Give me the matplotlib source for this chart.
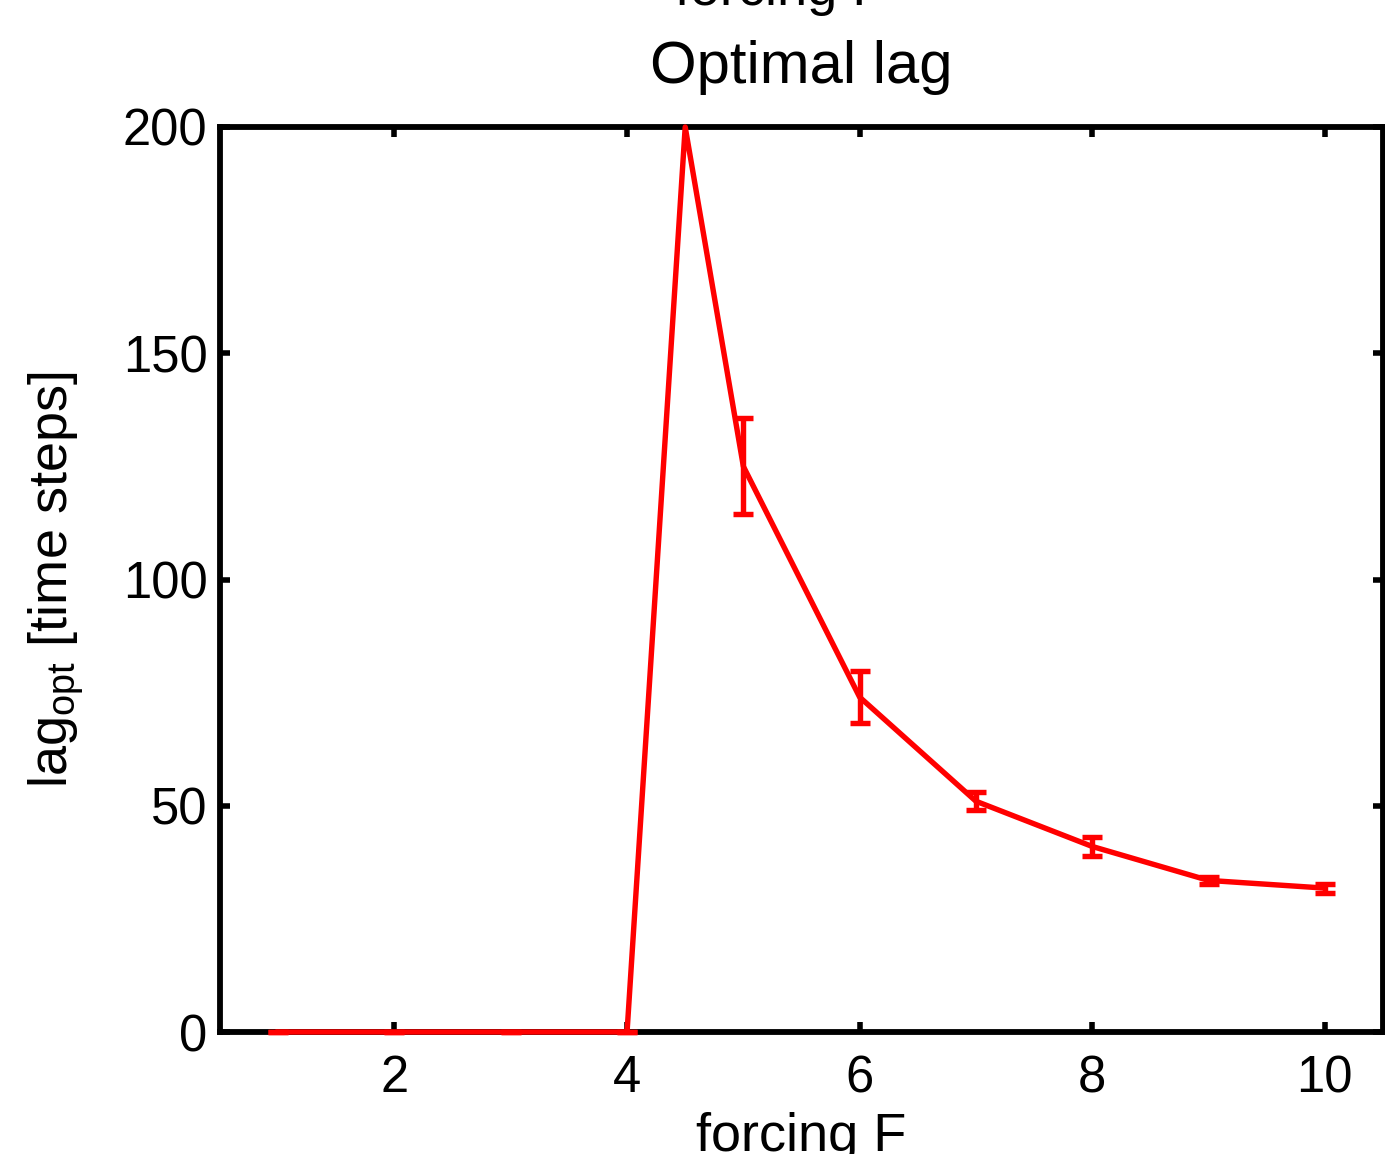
import numpy as np
import matplotlib.pyplot as plt

plt.rcParams['font.family'] = ['Liberation Sans', 'DejaVu Sans']

# data
forcing = [1, 2, 3, 4, 4.5, 5, 6, 7, 8, 9, 10]
lag_opt = [0, 0, 0, 0, 200, 125, 74, 51, 41, 33.5, 31.8]
lag_err = [0, 0, 0, 0, np.nan, 10.6, 5.7, 2.0, 2.0, 0.7, 1.0]  # no bar shown at 4.5

xticks = [2, 4, 6, 8, 10]
yticks = [0, 50, 100, 150, 200]

fig = plt.figure(figsize=(13.85, 11.54), dpi=100)
ax = fig.add_axes([220/1385, 1 - 1032/1154, 1163/1385, 905/1154])

eb = ax.errorbar(forcing, lag_opt, yerr=lag_err, color='red', lw=3.9,
                 elinewidth=3.9, capsize=7.5, capthick=3.9, zorder=3)
# red line sits on top of the bottom axis in the original
for art in eb.get_children():
    art.set_clip_on(False)

ax.set_xlim(0.5, 10.5)
ax.set_ylim(0, 200)
ax.set_xticks(xticks)
ax.set_yticks(yticks)

for s in ax.spines.values():
    s.set_linewidth(4.2)
ax.tick_params(direction='in', length=7, width=4, labelsize=36.5,
               top=True, right=True)
ax.tick_params(axis='x', pad=16)
ax.tick_params(axis='y', pad=9)

ax.set_title('Optimal lag', fontsize=43, pad=32)
ax.set_xlabel('forcing F', fontsize=39, labelpad=6)
ax.set_ylabel(r'lag$_{\mathregular{opt}}$ [time steps]', fontsize=39, labelpad=26)

# xlabel of the panel above, cut off by the crop
fig.text(780/1385, 1 - 5/1154, 'forcing F', fontsize=39, ha='center', va='baseline')

fig.savefig('out.png', dpi=100)
